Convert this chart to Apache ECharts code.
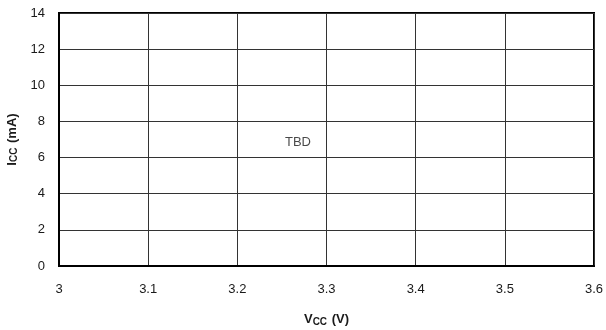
<!DOCTYPE html>
<html><head><meta charset="utf-8">
<script src="https://cdn.jsdelivr.net/npm/echarts@6/dist/echarts.min.js"></script>
<style>html,body{margin:0;padding:0;background:#fff}#c{width:606px;height:330px}</style>
</head><body><div id="c"></div>
<script>
const xTicks = [3, 3.1, 3.2, 3.3, 3.4, 3.5, 3.6];
const yTicks = [0, 2, 4, 6, 8, 10, 12, 14];
const annotX = [3.268];
const annotY = [6.85];
const annotText = ['TBD'];

const chart = echarts.init(document.getElementById('c'), null, {renderer: 'canvas'});
const F = 'Liberation Sans, Arial, sans-serif';
chart.setOption({
  animation: false,
  backgroundColor: '#fff',
  grid: {left: 59, right: 12, top: 13, bottom: 64, containLabel: false, outerBoundsMode: 'none',
    show: true, borderColor: '#000', borderWidth: 2, backgroundColor: 'transparent'},
  xAxis: {
    type: 'value', min: xTicks[0], max: xTicks[xTicks.length-1], interval: 0.1,
    axisLine: {show: true, lineStyle: {color: '#000', width: 2}},
    axisTick: {show: false},
    splitLine: {show: true, lineStyle: {color: '#333', width: 1}},
    axisLabel: {margin: 17, color: '#1a1a1a', fontFamily: F, fontSize: 13,
      formatter: v => { const t = xTicks.find(x => Math.abs(x - v) < 1e-6); return t === undefined ? '' : String(t); }},
    name: '{b|V}{s|CC}{b| (V)}', nameLocation: 'middle', nameGap: 46,
    nameTextStyle: {rich: {b: {fontFamily: F, fontSize: 13, fontWeight: 'bold', color: '#1a1a1a'}, s: {fontFamily: F, fontSize: 10, fontWeight: 'bold', color: '#1a1a1a', padding: [5,1,0,0]}}}
  },
  yAxis: {
    type: 'value', min: yTicks[0], max: yTicks[yTicks.length-1], interval: 2,
    axisLine: {show: true, lineStyle: {color: '#000', width: 2}},
    axisTick: {show: false},
    splitLine: {show: true, lineStyle: {color: '#333', width: 1}},
    axisLabel: {margin: 14, color: '#1a1a1a', fontFamily: F, fontSize: 13},
    name: '{b|I}{s|CC}{b| (mA)}', nameLocation: 'middle', nameGap: 36, nameRotate: 90,
    nameTextStyle: {rich: {b: {fontFamily: F, fontSize: 13, fontWeight: 'bold', color: '#1a1a1a'}, s: {fontFamily: F, fontSize: 10, fontWeight: 'bold', color: '#1a1a1a', padding: [5,1,0,0]}}}
  },
  series: [{
    type: 'scatter', symbolSize: 0, silent: true,
    data: annotX.map((x, i) => ({value: [x, annotY[i]], name: annotText[i]})),
    label: {show: true, position: 'inside', formatter: p => p.name, color: '#1a1a1a', fontFamily: F, fontSize: 13}
  }]
});
</script></body></html>
